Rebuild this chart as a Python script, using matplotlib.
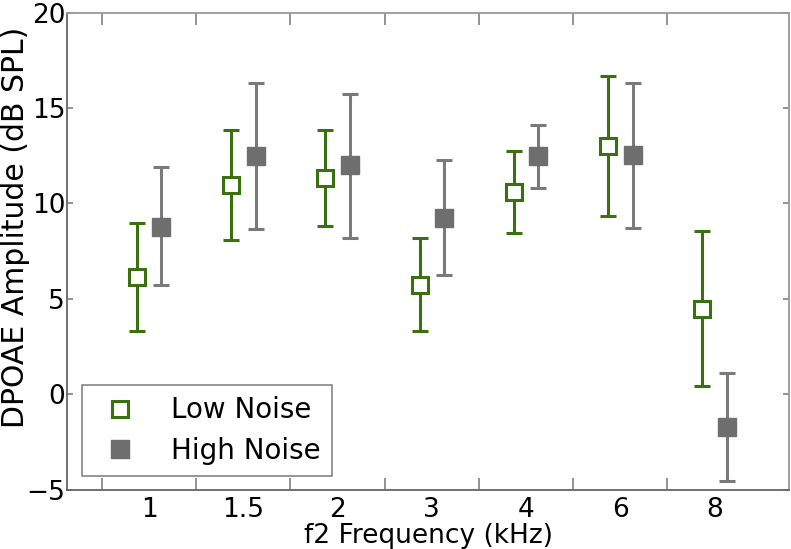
import matplotlib
matplotlib.use('Agg')
import matplotlib.pyplot as plt
import numpy as np

# f2 frequencies (kHz) and DPOAE amplitudes
freqs = ['1', '1.5', '2', '3', '4', '6', '8']
low_mean = [6.15, 10.95, 11.35, 5.75, 10.6, 13.03, 4.46]
low_upper = [9.0, 13.86, 13.86, 8.17, 12.77, 16.7, 8.58]
low_lower = [3.3, 8.07, 8.82, 3.31, 8.44, 9.35, 0.45]
high_mean = [8.79, 12.49, 12.0, 9.25, 12.49, 12.53, -1.7]
high_upper = [11.93, 16.32, 15.72, 12.28, 14.11, 16.32, 1.13]
high_lower = [5.72, 8.65, 8.19, 6.24, 10.82, 8.74, -4.53]

green = '#3a7010'
grey = '#6e6e6e'
grey_bar = '#7a7a7a'

x = np.arange(len(freqs))
offset = 0.13

fig = plt.figure(figsize=(7.91, 5.49), dpi=100)
ax = fig.add_axes([0.085, 0.108, 0.913, 0.869])

low_err = [np.array(low_mean) - np.array(low_lower),
           np.array(low_upper) - np.array(low_mean)]
high_err = [np.array(high_mean) - np.array(high_lower),
            np.array(high_upper) - np.array(high_mean)]

ax.errorbar(x - offset, low_mean, yerr=low_err, fmt='s', ecolor=green,
            mfc='white', mec=green, mew=2.2, ms=11.5, elinewidth=2.2,
            capsize=5.5, capthick=2.2, label='Low Noise', zorder=3)
ax.errorbar(x + offset, high_mean, yerr=high_err, fmt='s', ecolor=grey_bar,
            mfc=grey, mec=grey, ms=13, elinewidth=2.2,
            capsize=5.5, capthick=2.2, label='High Noise', zorder=3)

ax.set_xlim(-0.868, 6.795)
ax.set_ylim(-5, 20)
ax.set_xticks(x)
ax.set_xticklabels(freqs)
ax.set_xticks(x - 0.5, minor=True)
ax.set_yticks([-5, 0, 5, 10, 15, 20])
ax.set_yticklabels(['\u22125', '0', '5', '10', '15', '20'])

ax.tick_params(axis='x', which='major', length=0, labelsize=19, pad=5)
ax.tick_params(axis='x', which='minor', direction='in', length=8.6,
               width=1.2, color='#808080', top=True, bottom=True)
ax.tick_params(axis='y', direction='in', length=4.5, width=1.2,
               color='#808080', labelsize=19, pad=1.5, left=True, right=True)

for side in ['left', 'bottom']:
    ax.spines[side].set_color('#666666')
for side in ['top', 'right']:
    ax.spines[side].set_color('#999999')
for s in ax.spines.values():
    s.set_linewidth(1.3)

ax.set_xlabel('f2 Frequency (kHz)', fontsize=19, labelpad=0)
ax.set_ylabel('DPOAE Amplitude (dB SPL)', fontsize=21.5)
ax.yaxis.set_label_coords(-0.051, 0.549)

handles, labels = ax.get_legend_handles_labels()
handles = [h[0] for h in handles]
leg = ax.legend(handles, labels, loc='lower left', fontsize=20,
                numpoints=1, handlelength=1.9, handletextpad=0.9,
                borderpad=0.4, labelspacing=0.45, fancybox=False,
                borderaxespad=0, bbox_to_anchor=(0.0207, 0.029))
leg.get_frame().set_edgecolor('#666666')
leg.get_frame().set_linewidth(1.2)

fig.savefig('out.png', dpi=100)
